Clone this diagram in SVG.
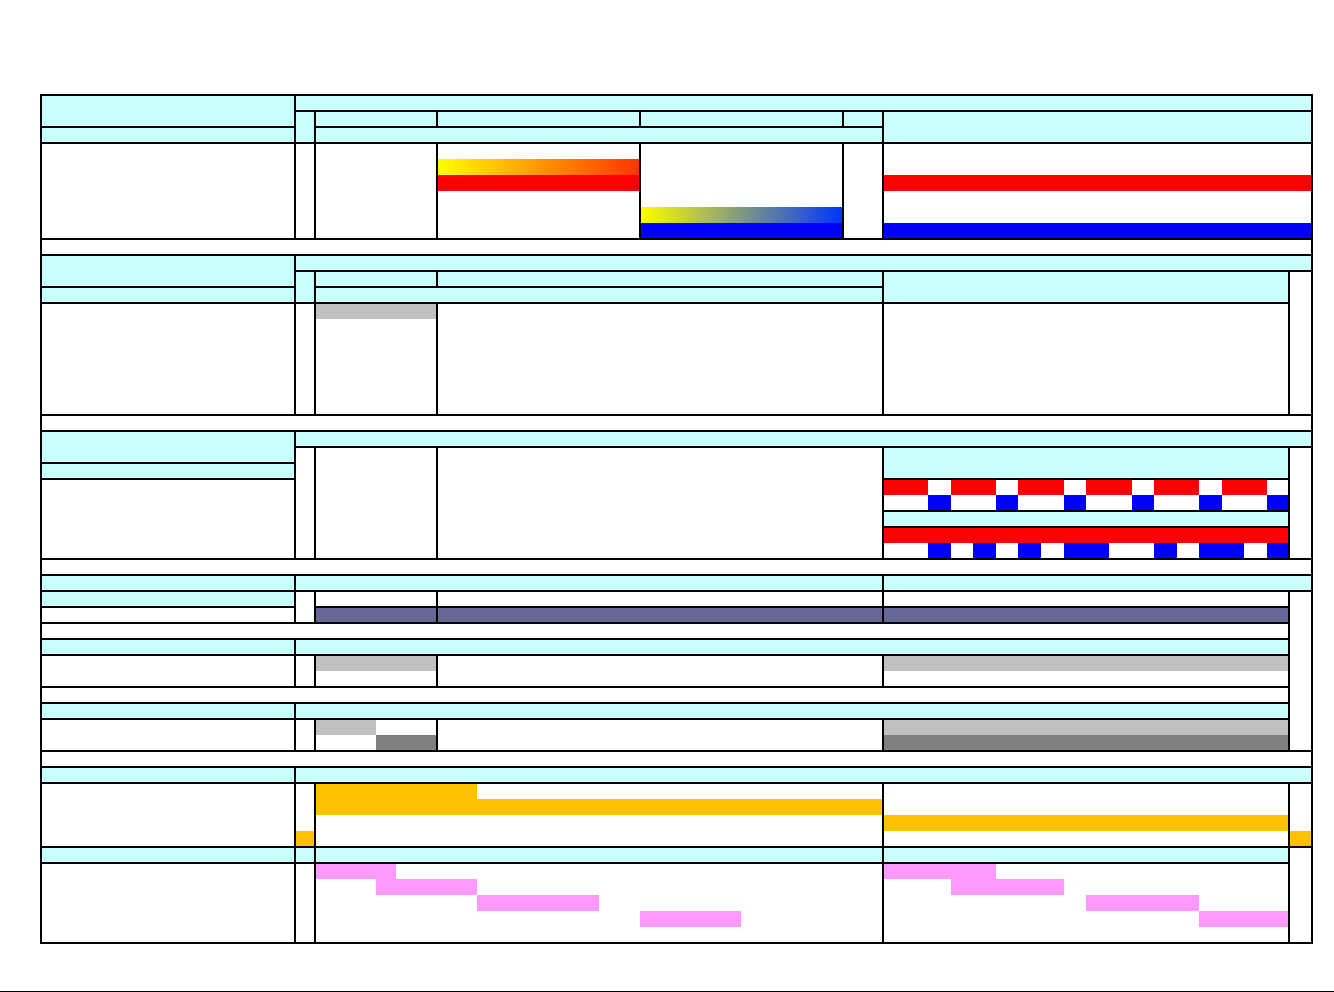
<svg xmlns="http://www.w3.org/2000/svg" width="1334" height="992" viewBox="0 0 1334 992">
<style>
.c{fill:#CCFFFF}.r{fill:#FF0000}.b{fill:#0000FF}.g{fill:#C0C0C0}.dg{fill:#808080}.s{fill:#666699}.o{fill:#FFC000}.p{fill:#FF99FF}
.ln{stroke:#000;stroke-width:2;fill:none;stroke-linecap:square}
</style>
<defs>
<linearGradient id="gYR" x1="0" y1="0" x2="1" y2="0"><stop offset="0" stop-color="#FFFF00"/><stop offset="1" stop-color="#FF3300"/></linearGradient>
<linearGradient id="gYB" x1="0" y1="0" x2="1" y2="0"><stop offset="0" stop-color="#FFFF00"/><stop offset="1" stop-color="#0033FF"/></linearGradient>
</defs>
<rect x="0" y="0" width="1334" height="992" fill="#FFFFFF"/>
<g id="section1">
<rect class="c" x="41" y="95" width="1271" height="48"/>
<rect fill="url(#gYR)" x="437" y="159" width="203" height="16"/>
<rect class="r" x="437" y="175" width="203" height="16"/>
<rect fill="url(#gYB)" x="640" y="207" width="203" height="16"/>
<rect class="b" x="640" y="223" width="203" height="16"/>
<rect class="r" x="883" y="175" width="429" height="16"/>
<rect class="b" x="883" y="223" width="429" height="16"/>
</g>
<g id="section2">
<rect class="c" x="41" y="255" width="1271" height="16"/>
<rect class="c" x="41" y="271" width="1248" height="32"/>
<rect class="g" x="315" y="303" width="122" height="16"/>
</g>
<g id="section3">
<rect class="c" x="41" y="431" width="1271" height="16"/>
<rect class="c" x="41" y="447" width="254" height="32"/>
<rect class="c" x="883" y="447" width="406" height="32"/>
<rect class="r" x="883" y="479" width="45" height="16"/>
<rect class="r" x="951" y="479" width="45" height="16"/>
<rect class="r" x="1018" y="479" width="46" height="16"/>
<rect class="r" x="1086" y="479" width="46" height="16"/>
<rect class="r" x="1154" y="479" width="45" height="16"/>
<rect class="r" x="1222" y="479" width="45" height="16"/>
<rect class="b" x="928" y="495" width="23" height="16"/>
<rect class="b" x="996" y="495" width="22" height="16"/>
<rect class="b" x="1064" y="495" width="22" height="16"/>
<rect class="b" x="1132" y="495" width="22" height="16"/>
<rect class="b" x="1199" y="495" width="23" height="16"/>
<rect class="b" x="1267" y="495" width="22" height="16"/>
<rect class="c" x="883" y="511" width="406" height="16"/>
<rect class="r" x="883" y="527" width="406" height="16"/>
<rect class="b" x="928" y="543" width="23" height="16"/>
<rect class="b" x="973" y="543" width="23" height="16"/>
<rect class="b" x="1018" y="543" width="23" height="16"/>
<rect class="b" x="1064" y="543" width="45" height="16"/>
<rect class="b" x="1154" y="543" width="23" height="16"/>
<rect class="b" x="1199" y="543" width="45" height="16"/>
<rect class="b" x="1267" y="543" width="22" height="16"/>
</g>
<g id="section4">
<rect class="c" x="41" y="575" width="1271" height="16"/>
<rect class="c" x="41" y="591" width="254" height="16"/>
<rect class="s" x="315" y="607" width="974" height="16"/>
<rect class="c" x="41" y="639" width="1248" height="16"/>
<rect class="g" x="315" y="655" width="122" height="16"/>
<rect class="g" x="883" y="655" width="406" height="16"/>
<rect class="c" x="41" y="703" width="1248" height="16"/>
<rect class="g" x="315" y="719" width="61" height="16"/>
<rect class="dg" x="376" y="735" width="61" height="16"/>
<rect class="g" x="883" y="719" width="406" height="16"/>
<rect class="dg" x="883" y="735" width="406" height="16"/>
</g>
<g id="section5">
<rect class="c" x="41" y="767" width="1271" height="16"/>
<rect class="o" x="315" y="783" width="162" height="16"/>
<rect class="o" x="315" y="799" width="568" height="16"/>
<rect class="o" x="883" y="815" width="406" height="16"/>
<rect class="o" x="295" y="831" width="20" height="16"/>
<rect class="o" x="1289" y="831" width="23" height="16"/>
<rect class="c" x="41" y="847" width="1248" height="16"/>
<rect class="p" x="315" y="863" width="81" height="16"/>
<rect class="p" x="376" y="879" width="101" height="16"/>
<rect class="p" x="477" y="895" width="122" height="16"/>
<rect class="p" x="640" y="911" width="101" height="16"/>
<rect class="p" x="883" y="863" width="113" height="16"/>
<rect class="p" x="951" y="879" width="113" height="16"/>
<rect class="p" x="1086" y="895" width="113" height="16"/>
<rect class="p" x="1199" y="911" width="90" height="16"/>
</g>
<g id="connectors" class="ln">
<path d="M41 95H1312V943H41Z"/>
<path d="M295 111H1312M41 127H295M315 127H883M41 143H1312M41 239H1312"/>
<path d="M295 95V239M315 111V239M437 111V127M437 143V239M640 111V127M640 143V239M843 111V127M843 143V239M883 111V239"/>
<path d="M41 255H1312M295 271H1312M41 287H295M315 287H883M41 303H1289M41 415H1312"/>
<path d="M295 255V415M315 271V415M437 271V287M437 303V415M883 271V415M1289 271V415"/>
<path d="M41 431H1312M295 447H1312M41 463H295M41 479H295M883 479H1289M883 511H1289M883 527H1289M41 559H1312"/>
<path d="M295 431V559M315 447V559M437 447V559M883 447V559M1289 447V559"/>
<path d="M41 575H1312M41 591H1312M41 607H295M315 607H1289M41 623H1289M41 639H1289M41 655H1289M41 687H1289M41 703H1289M41 719H1289M41 751H1312"/>
<path d="M295 575V623M295 639V687M295 703V751M315 591V623M315 655V687M315 719V751M437 591V623M437 655V687M437 719V751M883 575V623M883 655V687M883 719V751M1289 591V751"/>
<path d="M41 767H1312M41 783H1312M41 847H1312M41 863H1289"/>
<path d="M295 767V943M315 783V943M883 783V943M1289 783V943"/>
</g>
<rect x="0" y="991" width="1334" height="1" fill="#000"/>
</svg>
